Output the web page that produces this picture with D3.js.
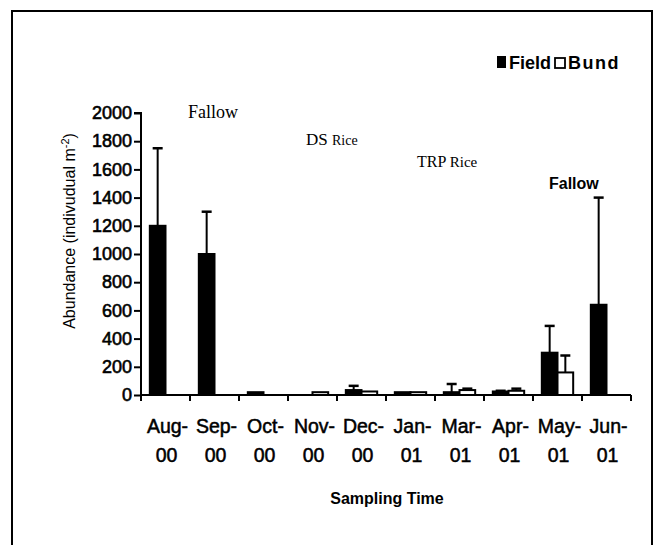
<!DOCTYPE html>
<html>
<head>
<meta charset="utf-8">
<script src="https://cdn.jsdelivr.net/npm/d3@7"></script>
<style>
  body { margin: 0; background: #fff; }
  text { font-family: Arial, "Liberation Sans", sans-serif; fill: #000; }
</style>
</head>
<body>
<div id="chart"></div>
<script>
// chart values
const months = ['Aug-', 'Sep-', 'Oct-', 'Nov-', 'Dec-', 'Jan-', 'Mar-', 'Apr-', 'May-', 'Jun-']
const years = ['00', '00', '00', '00', '00', '01', '01', '01', '01', '01']
const series = ['Field', 'Bund']
const fieldMean = [1200, 1000, 20, 0, 35, 20, 20, 25, 300, 640]
const fieldErr = [1750, 1300, 20, 0, 65, 20, 78, 30, 490, 1400]
const bundMean = [0, 0, 0, 20, 25, 20, 35, 30, 160, 0]
const bundErr = [0, 0, 0, 20, 25, 20, 45, 45, 280, 0]
const yTicks = [0, 200, 400, 600, 800, 1000, 1200, 1400, 1600, 1800, 2000]

const W = 660, H = 545
const PLOT = { left: 141, right: 631, top: 113, bottom: 395 }

const svg = d3.select('#chart').append('svg')
  .attr('width', W)
  .attr('height', H)

// outer frame
svg.append('rect')
  .attr('x', 12).attr('y', 11)
  .attr('width', 640).attr('height', 545)
  .attr('fill', 'none')
  .attr('stroke', '#000')
  .attr('stroke-width', 2)

const x = d3.scaleBand()
  .domain(months)
  .range([PLOT.left, PLOT.right])

const bw = x.bandwidth()
const xInner = d3.scaleBand()
  .domain(series)
  .range([bw * 0.18, bw * 0.82])

const y = d3.scaleLinear()
  .domain([0, 2000])
  .range([PLOT.bottom, PLOT.top])

const rows = months.map((m, i) => ([
  { month: m, key: 'Field', v: fieldMean[i], e: fieldErr[i] },
  { month: m, key: 'Bund', v: bundMean[i], e: bundErr[i] }
])).flat()

const content = svg.append('g')

// error bars (upwards only)
const errRows = rows.filter(d => d.e > d.v)
const cx = d => x(d.month) + xInner(d.key) + xInner.bandwidth() / 2
content.selectAll('line.err')
  .data(errRows)
  .join('line')
  .attr('x1', cx).attr('x2', cx)
  .attr('y1', d => y(d.v)).attr('y2', d => y(d.e))
  .attr('stroke', '#000').attr('stroke-width', 2)
content.selectAll('line.cap')
  .data(errRows)
  .join('line')
  .attr('x1', d => cx(d) - 5).attr('x2', d => cx(d) + 5)
  .attr('y1', d => y(d.e)).attr('y2', d => y(d.e))
  .attr('stroke', '#000').attr('stroke-width', 2.5)

content.selectAll('rect.bar')
  .data(rows.filter(d => d.v > 0))
  .join('rect')
  .attr('x', d => x(d.month) + xInner(d.key))
  .attr('width', xInner.bandwidth())
  .attr('y', d => y(d.v))
  .attr('height', d => y(0) - y(d.v))
  .attr('fill', d => d.key === 'Field' ? '#000' : '#fff')
  .attr('stroke', '#000')
  .attr('stroke-width', 2)

// y axis
const yAxis = d3.axisLeft(y).tickValues(yTicks).tickFormat(d3.format('d')).tickSize(7).tickPadding(2)
const gy = svg.append('g')
  .attr('transform', `translate(${PLOT.left},0)`)
  .call(yAxis)
gy.select('.domain').attr('stroke-width', 2).attr('d', `M-7,${PLOT.top}H0V${PLOT.bottom}`)
gy.selectAll('.tick line').attr('stroke-width', 2)
gy.selectAll('.tick text')
  .style('font-size', '18px')
  .style('font-family', 'Arial, "Liberation Sans", sans-serif')
  .attr('stroke', '#000').attr('stroke-width', 0.6)

// x axis: ticks at category boundaries
const gx = svg.append('g')
  .attr('transform', `translate(0,${PLOT.bottom})`)
gx.append('line')
  .attr('x1', PLOT.left).attr('x2', PLOT.right)
  .attr('stroke', '#000').attr('stroke-width', 2)
gx.selectAll('line.tk')
  .data(months.concat(['end']))
  .join('line')
  .attr('x1', (d, i) => PLOT.left + i * bw)
  .attr('x2', (d, i) => PLOT.left + i * bw)
  .attr('y1', 0).attr('y2', 6)
  .attr('stroke', '#000').attr('stroke-width', 2)

const lbl = gx.selectAll('text.lbl')
  .data(months)
  .join('text')
  .attr('text-anchor', 'middle')
  .style('font-size', '19.5px')
  .attr('stroke', '#000').attr('stroke-width', 0.5)
lbl.append('tspan')
  .attr('x', d => x(d) + bw / 2 + 2)
  .attr('y', 38)
  .text(d => d)
lbl.append('tspan')
  .attr('x', d => x(d) + bw / 2 + 1)
  .attr('y', 67)
  .text((d, i) => years[i])

svg.append('text')
  .attr('x', 387).attr('y', 504)
  .attr('text-anchor', 'middle')
  .style('font-size', '16px')
  .style('font-weight', 'bold')
  .text('Sampling Time')

// y title
const yt = svg.append('text')
  .attr('transform', `translate(75,${(PLOT.top + PLOT.bottom) / 2 - 23}) rotate(-90)`)
  .attr('text-anchor', 'middle')
  .style('font-size', '16px')
yt.append('tspan').text('Abundance (indivudual m')
yt.append('tspan').attr('dy', -6).style('font-size', '11px').text('-2')
yt.append('tspan').attr('dy', 6).text(')')

// phase notes
const serif = 'Times New Roman, "Liberation Serif", serif'
svg.append('text').attr('x', 188).attr('y', 118)
  .style('font-family', serif).style('font-size', '18px').text('Fallow')
const ds = svg.append('text').attr('x', 306).attr('y', 145)
  .style('font-family', serif).style('font-size', '17px')
ds.append('tspan').text('DS ')
ds.append('tspan').style('font-size', '14px').text('Rice')
const trp = svg.append('text').attr('x', 417).attr('y', 167)
  .style('font-family', serif).style('font-size', '16px')
trp.append('tspan').text('TRP ')
trp.append('tspan').style('font-size', '15px').text('Rice')
svg.append('text').attr('x', 549).attr('y', 189)
  .style('font-size', '16px').style('font-weight', 'bold').text('Fallow')

// legend
const lg = svg.append('g').attr('transform', 'translate(497,56)')
lg.append('rect').attr('width', 9).attr('height', 12).attr('fill', '#000')
lg.append('text').attr('x', 12).attr('y', 12.5)
  .style('font-size', '18px').style('font-weight', 'bold').text('Field')
lg.append('rect').attr('x', 58).attr('y', 2).attr('width', 10).attr('height', 10)
  .attr('fill', '#fff').attr('stroke', '#000').attr('stroke-width', 1.8)
lg.append('text').attr('x', 71).attr('y', 12.5)
  .style('font-size', '18px').style('font-weight', 'bold')
  .style('letter-spacing', '1.5px').text('Bund')
</script>
</body>
</html>
